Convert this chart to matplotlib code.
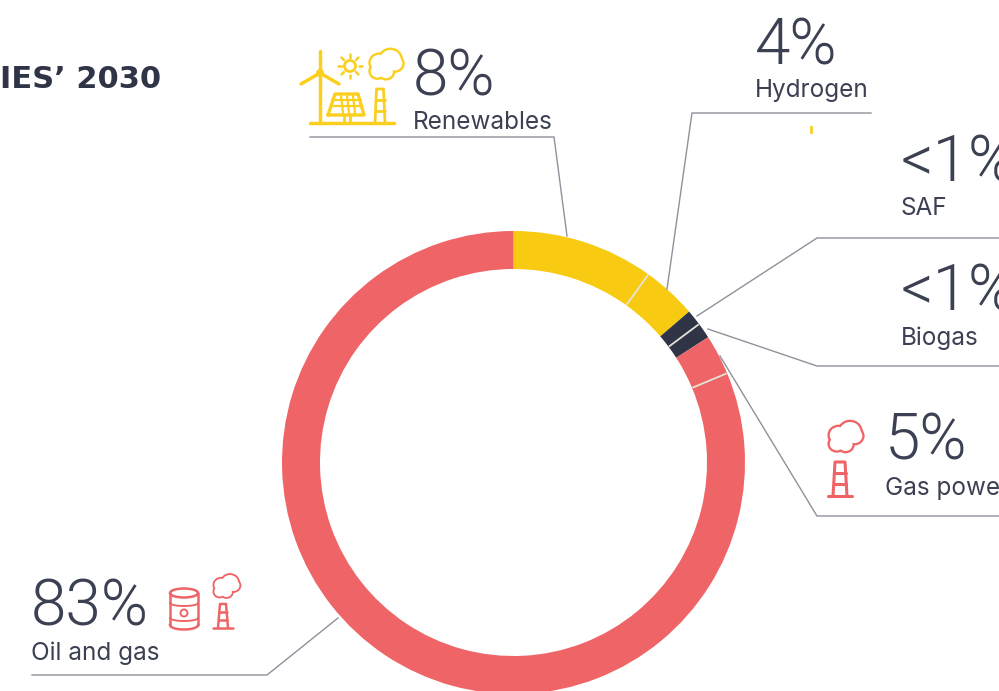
import matplotlib
matplotlib.use("Agg")
from matplotlib import pyplot as plt
from matplotlib.patches import Ellipse, Circle
import numpy as np

# shares as drawn on the ring, clockwise from the top
segments = ["Renewables", "Hydrogen", "SAF", "Biogas", "Gas power", "Oil and gas"]
ring_values = [9.9, 3.8, 1.1, 1.1, 2.8, 81.3]
ring_colors = ["#f8cb12", "#f8cb12", "#2f3447", "#2f3447", "#ef6567", "#ef6567"]
# pale lines sit on these segment ends
split_after = [0, 2, 4]

pct_labels = ["8%", "4%", "<1%", "<1%", "5%", "83%"]
name_labels = ["Renewables", "Hydrogen", "SAF", "Biogas", "Gas power", "Oil and gas"]
pct_pos = [(413, 95), (755, 64), (901, 181), (901, 310), (885, 460), (31, 626)]
name_pos = [(413, 129), (755, 97), (900, 215), (901, 345), (885, 495), (31, 660)]

# leader lines in picture pixels
leaders = [
    [(310, 137), (554, 137), (567, 236)],
    [(871, 113), (692, 113), (667, 289)],
    [(999, 238), (817, 238), (697, 316)],
    [(999, 366), (817, 366), (708, 329)],
    [(999, 516), (817, 516), (720, 356)],
    [(32, 675), (267, 675), (338, 618)],
]

W, H = 999, 691
TEXT = "#3b4052"
YELLOW = "#fbcf1e"
RED = "#ef6567"


def py(y):
    return H - y


fig = plt.figure(figsize=(W / 100, H / 100), dpi=100, facecolor="white")
ax = fig.add_axes([0, 0, 1, 1])

wedges, _ = ax.pie(ring_values, colors=ring_colors, startangle=90, counterclock=False,
                   center=(513.5, py(462.5)), radius=231.5,
                   wedgeprops=dict(width=38, linewidth=0))
ax.set_xlim(0, W)
ax.set_ylim(0, H)
ax.set_aspect("equal")
ax.axis("off")

# pale separators across the ring
ends = np.cumsum(ring_values) * 3.6
for i in split_after:
    a = np.radians(ends[i])
    ax.plot([513.5 + 194 * np.sin(a), 513.5 + 231 * np.sin(a)],
            [py(462.5) + 194 * np.cos(a), py(462.5) + 231 * np.cos(a)],
            color="#e6e2d6", lw=1.3, solid_capstyle="butt")

for pts in leaders:
    xs = [p[0] for p in pts]
    ys = [py(p[1]) for p in pts]
    ax.plot(xs, ys, color="#8f919b", lw=1.0, solid_joinstyle="miter")

for s, (x, y) in zip(pct_labels, pct_pos):
    ax.text(x, py(y), s, fontsize=46, family="Roboto", weight=300, color=TEXT, va="baseline", ha="left")
for s, (x, y) in zip(name_labels, name_pos):
    ax.text(x, py(y), s, fontsize=17.5, family="Inter", color=TEXT, va="baseline", ha="left")

ax.text(0, py(88), "IES\u2019 2030", fontsize=22, family="DejaVu Sans", weight="bold", color="#2f3447",
        va="baseline", ha="left")

ax.plot([811, 811], [py(127), py(132)], color=YELLOW, lw=2)


def stroke(points, color, lw=2.2):
    ax.plot([p[0] for p in points], [py(p[1]) for p in points], color=color, lw=lw,
            solid_capstyle="round", solid_joinstyle="round")


def chimney(cx, top, base, half_top, half_base, color, lw=2.0):
    stroke([(cx - half_base - 5, base), (cx + half_base + 5, base)], color, lw)
    stroke([(cx - half_base, base), (cx - half_top, top), (cx + half_top, top), (cx + half_base, base)], color, lw)
    for f in (0.33, 0.66):
        y = top + (base - top) * f
        stroke([(cx - half_top - 1, y), (cx + half_top + 1, y)], color, lw)


def smoke(x0, y0, w, h, color, lw=2.0):
    # puffy cloud: outlined circles with white ones on top leave only the outer edge
    puffs = [(0.63, 0.30, 0.30), (0.30, 0.40, 0.25), (0.25, 0.66, 0.20), (0.50, 0.68, 0.20), (0.76, 0.42, 0.22)]
    for fill, edge, z in (("none", color, 3), ("white", "none", 4)):
        for fx, fy, fr in puffs:
            ax.add_patch(Ellipse((x0 + fx * w, py(y0 + fy * h)), 2 * fr * w, 2 * fr * h,
                                 fc=fill, ec=edge, lw=lw * 1.5, zorder=z))


# renewables icon
stroke([(310, 123), (394, 123)], YELLOW, 2.5)
stroke([(320, 123), (320, 51)], YELLOW, 2.5)
stroke([(320, 73), (301, 84)], YELLOW, 2.5)
stroke([(320, 73), (339, 84)], YELLOW, 2.5)
ax.add_patch(Circle((320, py(73)), 3, fc="#d9d9d0", ec=YELLOW, lw=1.5))
ax.add_patch(Circle((350, py(66)), 5.5, fc="none", ec=YELLOW, lw=2))
for d in range(0, 360, 45):
    a = np.radians(d)
    stroke([(350 + 8.5 * np.cos(a), 66 + 8.5 * np.sin(a)), (350 + 12 * np.cos(a), 66 + 12 * np.sin(a))], YELLOW, 1.8)
stroke([(328, 115), (364, 115), (358, 94), (335, 94), (328, 115)], YELLOW, 2.4)
for x in (342, 348, 354):
    stroke([(x - 1, 96), (x + 1, 113)], YELLOW, 1.6)
for y in (100, 106):
    stroke([(332, y), (361, y)], YELLOW, 1.6)
stroke([(344, 115), (344, 123)], YELLOW, 2)
stroke([(350, 115), (350, 123)], YELLOW, 2)
chimney(380, 89, 123, 3.5, 5, YELLOW)
smoke(369, 50, 34, 32, YELLOW, 2.3)

# gas power icon
chimney(840, 462, 496, 5, 7, RED, 2.2)
smoke(828, 422, 35, 33, RED, 2.2)

# oil and gas icons
ax.add_patch(Ellipse((184, py(593)), 28, 9, fc="none", ec=RED, lw=1.8))
stroke([(170, 593), (170, 625)], RED, 1.8)
stroke([(198, 593), (198, 625)], RED, 1.8)
t = np.radians(np.linspace(180, 360, 30))
ax.plot(184 + 14 * np.cos(t), py(625) + 4.5 * np.sin(t), color=RED, lw=1.8)
for yy in (603, 618):
    ax.plot(184 + 14 * np.cos(t), py(yy) + 3 * np.sin(t), color=RED, lw=1.4)
ax.add_patch(Circle((184, py(613)), 3.5, fc="none", ec=RED, lw=1.4))
chimney(223, 604, 628, 3, 5, RED, 1.8)
smoke(213, 575, 27, 25, RED, 1.8)

fig.savefig("out.png", dpi=100, facecolor="white")
